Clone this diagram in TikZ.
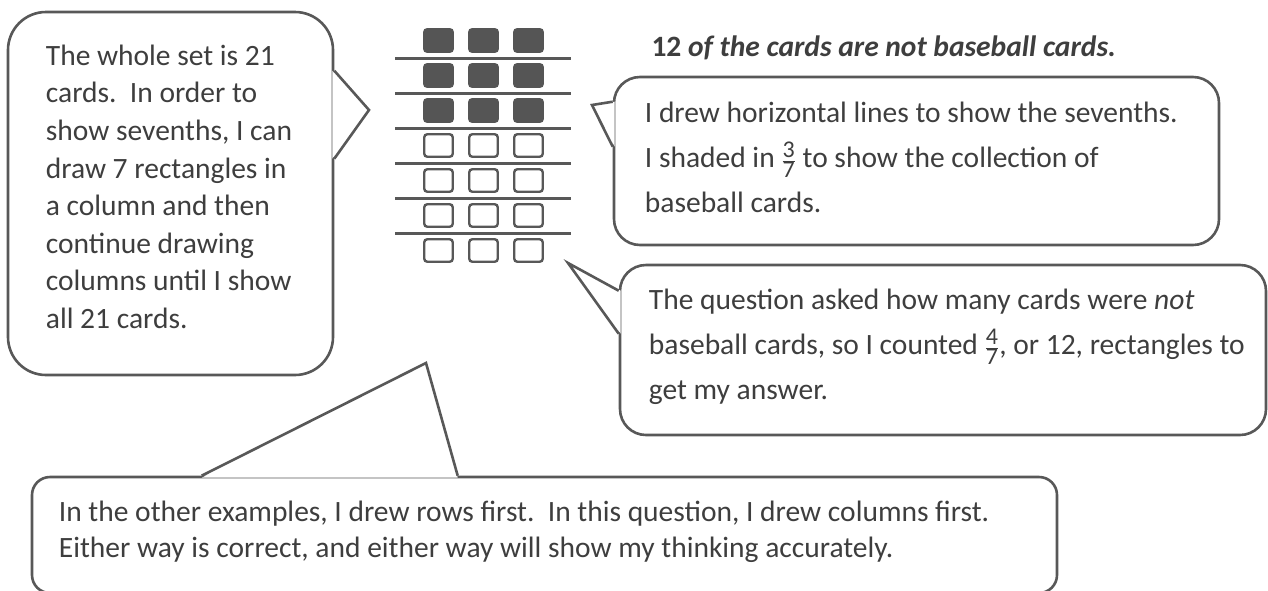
\documentclass[tikz,border=0pt]{standalone}
\usepackage{fontspec}
\setmainfont{Carlito}
\usetikzlibrary{positioning,calc}
\definecolor{cardInk}{HTML}{3E3E3E}
\definecolor{cardLine}{HTML}{585858}
\definecolor{cardShade}{HTML}{555555}
\newcommand\cardfrac[2]{\(\frac{\mbox{\fontsize{24}{24}\selectfont#1}}{\mbox{\fontsize{24}{24}\selectfont#2}}\)}

\begin{document}
\begin{tikzpicture}[x=1pt,y=-1pt,font=\fontsize{29.5}{37.6}\selectfont,text=cardInk]
  \tikzset{bubble/.style={draw=cardLine,line width=2.6pt,fill=white,inner sep=0pt},
    pointer/.style={draw=cardLine,line width=2.6pt,line join=miter},
    say/.style={align=left,inner sep=0pt,anchor=north west},
    card/.style={draw=cardLine,line width=2.4pt,rounded corners=3pt,minimum width=28.5pt,minimum height=22.5pt,inner sep=0pt}}
  \useasboundingbox (0,0) rectangle (1268,590);

  % the 21 cards, one column after the other
  \foreach \c in {0,1,2}{
    \foreach \r in {0,1,2} \node[card,fill=cardShade,draw=cardShade] (sq-\r-\c) at (438.5+45*\c,40.5+35*\r) {};
    \foreach \r in {3,...,6} \node[card] (sq-\r-\c) at (438.5+45*\c,40.5+35*\r) {};
  }
  \foreach \r in {1,...,6} \draw[cardLine,line width=3pt] (395,23+35*\r) -- (571,23+35*\r);

  \node[anchor=base west,font=\fontsize{29.5}{37.6}\selectfont\bfseries] (claim) at (648,56) {12 \textit{of the cards are not baseball cards.}};

  % left bubble
  \node[bubble,rounded corners=38pt,minimum width=325pt,minimum height=363pt] (whole) at (170.5,193.5) {};
  \coordinate (wholeTip) at (369,110);
  \fill[white] ($(whole.north east)+(-2,60)$) -- (wholeTip) -- ($(whole.north east)+(-2,148)$) -- cycle;
  \draw[pointer] ($(whole.north east)+(0,60)$) -- (wholeTip) -- ($(whole.north east)+(0,148)$);
  \node[say,below right=34pt and 39pt of whole.north west] (wholeText) {The whole set is 21\\ cards.\ \ In order to\\ show sevenths, I can\\ draw 7 rectangles in\\ a column and then\\ continue drawing\\ columns until I show\\ all 21 cards.};

  % top right bubble
  \node[bubble,rounded corners=26pt,minimum width=605pt,minimum height=168pt] (shade) at (916.5,161) {};
  \coordinate (shadeTip) at (592,105);
  \fill[white] ($(shade.north west)+(2,26)$) -- (shadeTip) -- ($(shade.north west)+(2,71)$) -- cycle;
  \draw[pointer] ($(shade.north west)+(0,26)$) -- (shadeTip) -- ($(shade.north west)+(0,71)$);
  \node[say,font=\fontsize{29.5}{45}\selectfont,below right=26pt and 32pt of shade.north west] (shadeText) {I drew horizontal lines to show the sevenths.\\ I shaded in \cardfrac37 to show the collection of\\ baseball cards.};

  % bottom right bubble
  \node[bubble,rounded corners=26pt,minimum width=646pt,minimum height=170pt] (count) at (943,350) {};
  \coordinate (countTip) at (568,263);
  \fill[white] ($(count.north west)+(2,27)$) -- (countTip) -- ($(count.north west)+(2,70)$) -- cycle;
  \draw[pointer] ($(count.north west)+(0,27)$) -- (countTip) -- ($(count.north west)+(0,70)$);
  \node[say,font=\fontsize{29.5}{45}\selectfont,below right=25pt and 30pt of count.north west] (countText) {The question asked how many cards were \textit{not}\\ baseball cards, so I counted \cardfrac47, or 12, rectangles to\\ get my answer.};

  % bottom bubble
  \node[bubble,rounded corners=18pt,minimum width=1025pt,minimum height=116pt] (ways) at (544.5,535) {};
  \coordinate (waysTip) at (426,363);
  \fill[white] ($(ways.north west)+(171,2)$) -- (waysTip) -- ($(ways.north west)+(427,2)$) -- cycle;
  \draw[pointer] ($(ways.north west)+(171,0)$) -- (waysTip) -- ($(ways.north west)+(427,0)$);
  \node[say,font=\fontsize{29.5}{36}\selectfont,below right=25pt and 28pt of ways.north west] (waysText) {In the other examples, I drew rows first.\ \ In this question, I drew columns first.\\ Either way is correct, and either way will show my thinking accurately.};
\end{tikzpicture}
\end{document}
